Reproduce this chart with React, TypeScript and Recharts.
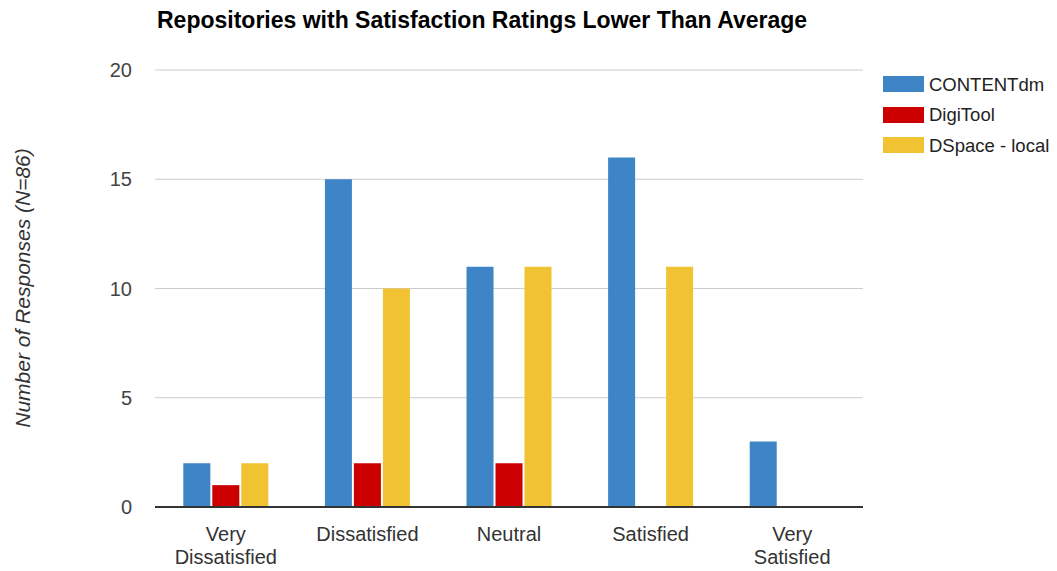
import React from 'react';
import { BarChart, Bar, XAxis, YAxis, CartesianGrid } from 'recharts';

const categories = ['Very Dissatisfied', 'Dissatisfied', 'Neutral', 'Satisfied', 'Very Satisfied'];
const contentdm = [2, 15, 11, 16, 3];
const digitool = [1, 2, 2, 0, 0];
const dspaceLocal = [2, 10, 11, 11, 0];
const yTicks = [0, 5, 10, 15, 20];

const series = [
    { key: 'contentdm', name: 'CONTENTdm', color: '#3d85c6' },
    { key: 'digitool', name: 'DigiTool', color: '#cc0000' },
    { key: 'dspace', name: 'DSpace - local', color: '#f1c232' },
];

const data = categories.map((c, i) => ({
    category: c,
    contentdm: contentdm[i],
    digitool: digitool[i],
    dspace: dspaceLocal[i],
}));

const FONT = '"Liberation Sans", Arial, Helvetica, sans-serif';
const W = 1049;
const H = 563;

// two-line labels: "Very" on top of the rest
function CategoryTick({ x, y, payload }: any) {
    const label: string = payload.value;
    const lines = label.startsWith('Very ') ? ['Very', label.slice(5)] : [label];
    return (
        <g>
            {lines.map((ln, i) => (
                <text
                    key={i}
                    x={x}
                    y={y + 32 + i * 23}
                    textAnchor="middle"
                    fontSize={20}
                    fontFamily={FONT}
                    fill="#333"
                >
                    {ln}
                </text>
            ))}
        </g>
    );
}

export default function App() {
    return (
        <div style={{ position: 'relative', width: W, height: H, fontFamily: FONT }}>
            <BarChart
                width={W}
                height={H}
                data={data}
                margin={{ top: 62, right: 194, bottom: 4, left: 87 }}
                barCategoryGap="20%"
                barGap={2}
            >
                <CartesianGrid vertical={false} stroke="#cccccc" />
                <XAxis
                    dataKey="category"
                    height={60}
                    tickLine={false}
                    tickSize={0}
                    axisLine={{ stroke: '#333', strokeWidth: 2 }}
                    tick={<CategoryTick />}
                    interval={0}
                />
                <YAxis
                    width={60}
                    domain={[0, 20]}
                    ticks={yTicks}
                    tickLine={false}
                    tickSize={0}
                    tickMargin={23}
                    axisLine={false}
                    tick={{ fontSize: 20, fill: '#444', fontFamily: FONT }}
                />
                {series.map(s => (
                    <Bar key={s.key} dataKey={s.key} name={s.name} fill={s.color} isAnimationActive={false} />
                ))}
            </BarChart>

            <svg width={W} height={H} style={{ position: 'absolute', left: 0, top: 0, pointerEvents: 'none' }}>
                <text x={149} y={20} fontSize={23} fontWeight="bold" fontFamily={FONT} fill="#000">
                    Repositories with Satisfaction Ratings Lower Than Average
                </text>
                <text
                    x={14}
                    y={280}
                    transform="rotate(-90 14 280)"
                    textAnchor="middle"
                    dominantBaseline="central"
                    fontSize={21}
                    fontStyle="italic"
                    fontFamily={FONT}
                    fill="#333"
                >
                    Number of Responses (N=86)
                </text>
            </svg>

            <div style={{ position: 'absolute', left: 875, top: 61 }}>
                {series.map(s => (
                    <div key={s.key} style={{ display: 'flex', alignItems: 'center', height: 30.5, whiteSpace: 'nowrap' }}>
                        <span style={{ display: 'inline-block', width: 41, height: 16, background: s.color, marginRight: 5 }} />
                        <span style={{ fontSize: 18.5, color: '#222', lineHeight: '19px' }}>{s.name}</span>
                    </div>
                ))}
            </div>
        </div>
    );
}
